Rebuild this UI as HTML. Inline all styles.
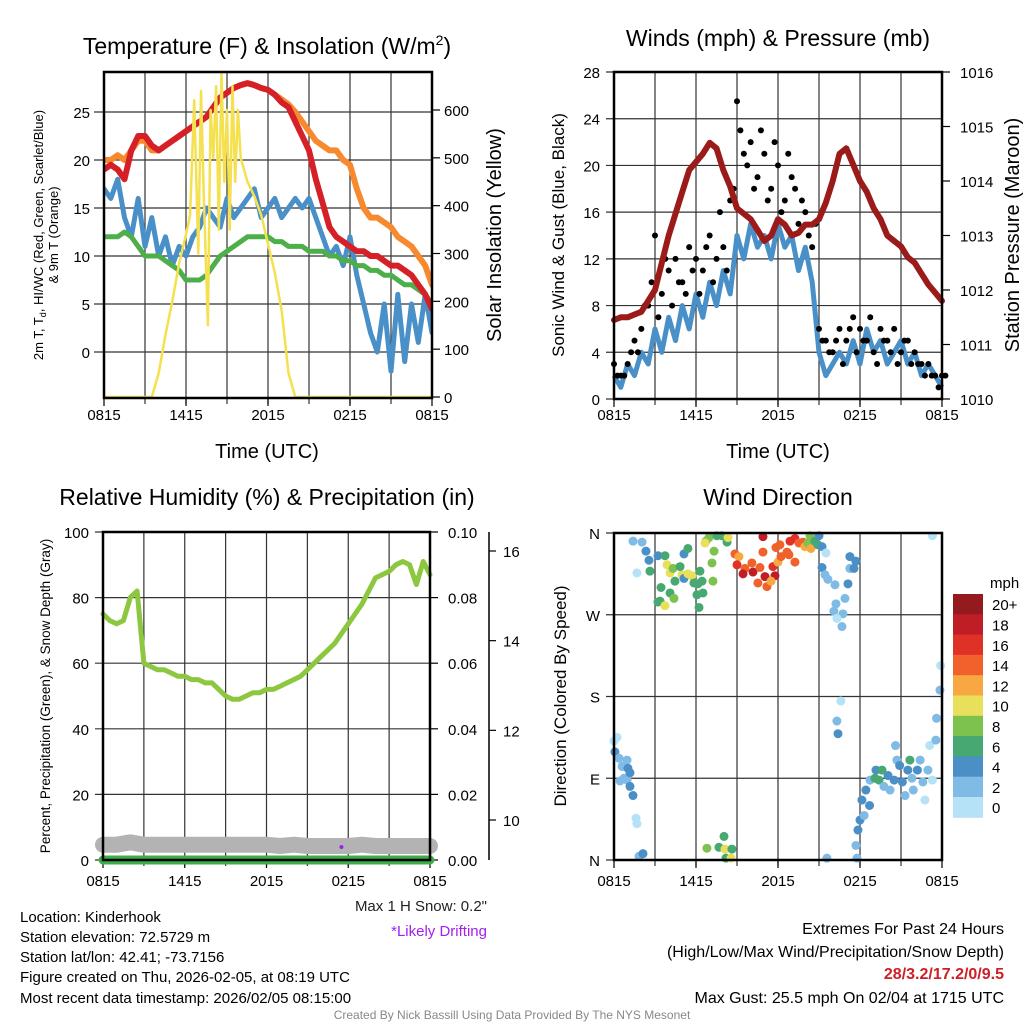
<!DOCTYPE html>
<html><head><meta charset="utf-8">
<style>
html,body{margin:0;padding:0;background:#fff;}
svg{display:block;font-family:"Liberation Sans",Arial,sans-serif;}
</style></head>
<body>
<svg id="c" width="1024" height="1024" viewBox="0 0 1024 1024" xmlns="http://www.w3.org/2000/svg">
<defs>
<clipPath id="clip1"><rect x="104" y="72" width="328" height="327"/></clipPath>
</defs>
<rect width="1024" height="1024" fill="#fff"/>
<g id="g1"></g>
<g id="g2"></g>
<g id="g3"></g>
<g id="g4"></g>

<text x="267" y="54" font-size="23" text-anchor="middle">Temperature (F) &amp; Insolation (W/m<tspan dy="-9" font-size="14">2</tspan><tspan dy="9">)</tspan></text>
<text x="778" y="46" font-size="23" text-anchor="middle">Winds (mph) &amp; Pressure (mb)</text>
<text x="267" y="505" font-size="23" text-anchor="middle">Relative Humidity (%) &amp; Precipitation (in)</text>
<text x="778" y="505" font-size="23" text-anchor="middle">Wind Direction</text>

<text x="267" y="458" font-size="20" text-anchor="middle">Time (UTC)</text>
<text x="778" y="458" font-size="20" text-anchor="middle">Time (UTC)</text>

<text transform="translate(43,235) rotate(-90)" font-size="13" text-anchor="middle">2m T, T<tspan font-size="9" dy="3">d</tspan><tspan dy="-3">, HI/WC (Red, Green, Scarlet/Blue)</tspan></text>
<text transform="translate(58,235) rotate(-90)" font-size="13" text-anchor="middle">&amp; 9m T (Orange)</text>
<text transform="translate(501,235) rotate(-90)" font-size="20" text-anchor="middle">Solar Insolation (Yellow)</text>
<text transform="translate(564,235) rotate(-90)" font-size="17" text-anchor="middle">Sonic Wind &amp; Gust (Blue, Black)</text>
<text transform="translate(1019,235) rotate(-90)" font-size="20" text-anchor="middle">Station Pressure (Maroon)</text>
<text transform="translate(50,696) rotate(-90)" font-size="13.5" text-anchor="middle">Percent, Precipitation (Green), &amp; Snow Depth (Gray)</text>
<text transform="translate(566,696) rotate(-90)" font-size="17" text-anchor="middle">Direction (Colored By Speed)</text>

<g font-size="15">
<text x="20" y="922">Location: Kinderhook</text>
<text x="20" y="942">Station elevation: 72.5729 m</text>
<text x="20" y="962">Station lat/lon: 42.41; -73.7156</text>
<text x="20" y="982">Figure created on Thu, 2026-02-05, at 08:19 UTC</text>
<text x="20" y="1003">Most recent data timestamp: 2026/02/05 08:15:00</text>
</g>
<text x="487" y="911" font-size="15" text-anchor="end" fill="#222">Max 1 H Snow: 0.2"</text>
<text x="487" y="936" font-size="15" text-anchor="end" fill="#a020f0">*Likely Drifting</text>
<g font-size="16" text-anchor="end">
<text x="1004" y="934">Extremes For Past 24 Hours</text>
<text x="1004" y="957">(High/Low/Max Wind/Precipitation/Snow Depth)</text>
<text x="1004" y="979" fill="#cc2027" font-weight="bold">28/3.2/17.2/0/9.5</text>
<text x="1004" y="1003">Max Gust: 25.5 mph On 02/04 at 1715 UTC</text>
</g>
<text x="512" y="1019" font-size="12" text-anchor="middle" fill="#888">Created By Nick Bassill Using Data Provided By The NYS Mesonet</text>
</svg>
<script>
// ---- data (half-hourly from 0815 UTC, h = 0..24) ----
const timeLabels = ["0815","1415","2015","0215","0815"];
const tempRed = [19,19.5,19,18,21,22.5,22.5,21.5,21,21.5,22,22.5,23,23.5,24,24.5,25.5,26.5,27,27.5,27.8,28,27.8,27.5,27.3,26.8,26,25.5,24,22.5,21,18,15.5,13,12,11.5,11,10.5,10.5,10,10,9.5,9,9,8.5,8,7,6,4.5];
const temp9m = [20,20,20.5,20,21,22,22,21,21,21.5,22,22.5,23,23.5,24,24.5,25.5,26.5,27,27.5,27.8,28,27.8,27.5,27.3,26.8,26.3,25.8,25,24,23,22,21.5,21,21,20,19.5,17,15,14,14,13.5,13,12,11.5,11,10,9,7];
const dewPoint = [12,12,12,12.5,12,11,10,10,10,9.5,9,8.5,7.5,7.5,7.5,8,9,10,10.5,11,11.5,12,12,12,12,11.5,11.5,11,11,11,10.5,10.5,10.5,10,10,9.5,9.5,9,9,8.5,8.5,8,8,7.5,7,7,6.5,6,5];
const windChill = [17,16,18,14,12,16,11,14,10,12,9,11,10,12,13,15,14,13,16,14,15,16,17,14,15,16,14,15,16,15,16,14,12,10,11,9,12,8,5,2,0,5,-2,6,-1,5,1,6,2];
const solarTimes = [0,3.5,4,4.5,5,5.5,6,6.3,6.6,6.9,7.1,7.3,7.6,7.8,8,8.2,8.4,8.6,8.8,9,9.2,9.4,9.6,9.8,10,10.5,11,11.5,12,12.5,13,13.5,14,24];
const solarValues = [0,0,50,130,200,280,340,380,620,300,640,420,150,600,500,650,350,680,450,600,350,650,450,600,500,450,420,380,320,260,180,50,0,0];
const tempTicks = [0,5,10,15,20,25];
const solarTicks = [0,100,200,300,400,500,600];

const windSpeed = [2,1,3,2,4,3,6,4,7,5,8,6,9,7,10,8,11,9,14,12,15,13,14,12,15,13,14,11,13,10,4,2,3,4,3,5,3,6,4,5,3,4,5,3,4,2,3,2,1];
const gustA = [3,2,3,5,6,8,14,9,11,12,10,13,12,11,14,12,13,17,25.5,21,22,19,21,18,20,17,19,15,16,13,6,5,4,6,5,7,6,5,4,6,5,6,4,5,4,3,3,2,2];
const gustB = [2,2,4,4,8,10,7,12,8,10,9,11,9,13,10,16,11,18,23,20,18,23,17,22,16,21,18,17,14,15,5,4,5,3,6,4,5,7,3,5,4,3,5,3,3,2,2,1,2];
const pressure = [1011.45,1011.5,1011.5,1011.55,1011.6,1011.8,1012.0,1012.5,1013.0,1013.4,1013.8,1014.2,1014.35,1014.5,1014.7,1014.6,1014.2,1013.9,1013.5,1013.4,1013.3,1013.1,1012.9,1013.0,1013.3,1013.2,1013.0,1013.05,1013.2,1013.2,1013.3,1013.6,1014.0,1014.5,1014.6,1014.3,1014.0,1013.8,1013.5,1013.3,1013.0,1012.9,1012.8,1012.6,1012.5,1012.3,1012.1,1011.95,1011.8];
const windTicks = [0,4,8,12,16,20,24,28];
const pressTicks = [1010,1011,1012,1013,1014,1015,1016];

const relHum = [75,73,72,73,80,82,60,59,58,58,57,56,56,55,55,54,54,52,50,49,49,50,51,51,52,52,53,54,55,56,58,60,62,64,66,69,72,75,78,82,86,87,88,90,91,90,84,91,87];
const precip = [0,0,0,0,0,0,0,0,0,0,0,0,0,0,0,0,0,0,0,0,0,0,0,0,0];
const snowDepth = [9.45,9.45,9.5,9.45,9.45,9.45,9.45,9.45,9.45,9.45,9.45,9.45,9.45,9.42,9.45,9.42,9.42,9.42,9.42,9.45,9.42,9.42,9.42,9.42,9.42];
const rhTicks = [0,20,40,60,80,100];
const precipTicks = ["0.00","0.02","0.04","0.06","0.08","0.10"];
const snowTicks = [10,12,14,16];

const dirTimes = [1.39,2.05,2.34,2.56,1.68,2.63,3.22,3.73,3.88,4.10,4.32,4.46,3.44,3.22,3.37,3.73,4.10,4.39,4.98,4.83,5.12,5.41,5.12,5.41,5.70,5.85,6.14,6.29,6.07,6.22,6.51,6.44,
6.73,6.95,6.66,7.32,7.17,7.53,7.90,8.27,8.34,7.24,
8.85,9.14,9.00,9.58,9.44,10.17,10.09,10.68,10.53,11.05,11.63,12.0,12.22,10.9,11.78,11.19,10.9,11.85,12.14,12.66,12.88,13.24,13.53,13.83,13.97,14.19,14.41,12.80,13.24,11.49,14.34,14.70,14.92,15.0,15.22,
15.51,15.22,15.44,15.65,16.17,16.24,16.09,16.75,16.31,16.68,16.9,17.12,17.26,17.56,17.26,17.70,
0,0.22,0.07,0.37,0.59,0.73,0.44,0.95,0.95,1.02,1.17,1.17,1.39,1.61,1.68,1.83,2.12,
6.8,7.68,8.05,8.12,8.19,8.63,8.56,
16.6,16.31,16.39,15.58,
18.0,17.85,17.7,17.78,18.14,18.43,18.73,19.09,19.17,19.39,19.61,19.75,20.05,20.2,20.5,20.7,20.9,21.1,21.3,21.5,21.8,21.9,22.2,22.4,22.6,22.75,22.97,23.1,23.3,23.6,23.85,23.9,23.3,18.7,18.3,20.6,21.65,23.55];
const dirValues = [351,350,340,330,316,318,335,335,325,316,321,307,300,284,285,280,294,288,314,323,337,343,310,315,313,305,304,318,292,278,294,307,
351,355,349,340,327,357,357,350,355,307,
337,334,325,321,315,317,327,322,305,312,323,328,334,339,313,301,356,344,347,339,351,354,349,350,345,349,343,336,328,307,357,351,347,357,345,
338,322,314,309,303,282,274,271,266,257,288,304,321,321,334,329,
131,135,119,112,103,90,87,88,110,101,96,81,71,46,40,4,7,
13,14,26,12,2,12,2,
175,153,139,2,
44,33,16,2,66,77,88,90,99,88,99,81,93,77,88,110,104,86,71,99,90,77,99,110,86,66,99,126,88,156,187,214,357,60,49,126,110,132];
const dirSpeeds = [2,2,4,4,1,6,4,6,10,10,8,6,6,6,6,10,6,8,10,6,4,6,4,10,10,6,6,6,6,6,6,6,
8,8,10,8,8,6,6,6,10,8,
14,12,16,14,18,18,14,14,14,18,16,12,14,14,18,14,18,14,14,14,16,16,14,14,12,8,12,14,14,12,8,6,6,4,4,
1,4,2,2,2,2,2,2,1,2,2,4,2,4,4,4,
1,1,4,2,2,2,2,2,2,4,4,4,4,1,1,2,4,
8,6,6,10,6,6,10,
1,2,4,2,
4,4,2,2,4,4,2,6,4,6,6,2,4,2,4,2,4,4,2,4,2,2,4,2,2,1,2,1,1,2,2,1,1,4,2,2,6,2];
const dirTicks = ["N","E","S","W","N"];
const speedLabels = ["0","2","4","6","8","10","12","14","16","18","20+"];
const speedColors = ["#b6e2f7","#7fbbe4","#4a8fc6","#48a872","#7dc24f","#e8e05a","#f8a843","#f0612b","#e03127","#c01e26","#941a1d"];

// ---- helpers ----
const NS="http://www.w3.org/2000/svg";
function mk(parent,tag,attrs,text){const e=document.createElementNS(NS,tag);for(const k in attrs)e.setAttribute(k,attrs[k]);if(text!==undefined)e.textContent=text;parent.appendChild(e);return e;}
function lin(d0,d1,r0,r1){return v=>r0+(v-d0)*(r1-r0)/(d1-d0);}
function pathFrom(xs,ys){return xs.map((x,i)=>(i?"L":"M")+x.toFixed(1)+","+ys[i].toFixed(1)).join("");}
function halfHours(n){return Array.from({length:n},(_,i)=>i*0.5);}

function frame(g,L,R,T,B,xs,prefix,labelY){
  for(let h=3;h<24;h+=3){const x=xs(h);
    const l=mk(g,"line",{x1:x,x2:x,y1:T,y2:B+6,stroke:"#333","stroke-width":1.2});
    
    }
  timeLabels.forEach((t,i)=>{const x=xs(i*6);
    const tk=mk(g,"line",{x1:x,x2:x,y1:B,y2:B+8,stroke:"#000","stroke-width":1.2});
    
    
    const tx=mk(g,"text",{x:x,y:labelY,"font-size":15,"text-anchor":"middle"},t);
    
    });
}
function hgrid(g,L,R,y,prefix,ext){const l=mk(g,"line",{x1:L-ext,x2:R,y1:y,y2:y,stroke:"#333","stroke-width":1.2});
  
  }
function border(g,L,R,T,B,prefix){const r=mk(g,"rect",{x:L,y:T,width:R-L,height:B-T,fill:"none",stroke:"#000","stroke-width":2.5});
  
  }

// ---- Panel 1 ----
(function(){
  const g=document.getElementById("g1");
  const L=104,R=432,T=72,B=398;
  const xs=lin(0,24,L,R), ys=lin(0,25,352,112), ysol=lin(0,600,397,110);
  tempTicks.forEach(v=>{hgrid(g,L,R,ys(v),"temperature",10);
    const t=mk(g,"text",{x:L-14,y:ys(v)+6,"font-size":15,"text-anchor":"end"},v);
    
    });
  solarTicks.forEach(v=>{const tk=mk(g,"line",{x1:R,x2:R+8,y1:ysol(v),y2:ysol(v),stroke:"#000","stroke-width":1.2});
    
    
    const t=mk(g,"text",{x:R+12,y:ysol(v)+6,"font-size":15},v);
    
    });
  frame(g,L,R,T,B,xs,"temperature",420);
  const cg=mk(g,"g",{"clip-path":"url(#clip1)"});
  
  
  const hh=halfHours(49);
  const series=[[windChill,"#4a90c8",5,"wind-chill-line"],[dewPoint,"#4caf4a",5,"dew-point-line"],[temp9m,"#f78a2e",6,"temp-9m-line"],[tempRed,"#d62027",6,"temp-2m-line"]];
  series.forEach(s=>{const p=mk(cg,"path",{d:pathFrom(hh.map(xs),s[0].map(ys)),fill:"none",stroke:s[1],"stroke-width":s[2],"stroke-linejoin":"round","stroke-linecap":"round"});
    
    });
  const sp=mk(cg,"path",{d:pathFrom(solarTimes.map(xs),solarValues.map(ysol)),fill:"none",stroke:"#f5e050","stroke-width":2.5,"stroke-linejoin":"round"});
  
  
  border(g,L,R,T,B,"temperature");
})();

// ---- Panel 2 ----
(function(){
  const g=document.getElementById("g2");
  const L=614,R=942,T=72,B=399;
  const xs=lin(0,24,L,R), yw=lin(0,28,B,T), yp=lin(1010,1016,B,T);
  windTicks.forEach(v=>{hgrid(g,L,R,yw(v),"wind",8);
    const t=mk(g,"text",{x:L-14,y:yw(v)+6,"font-size":15,"text-anchor":"end"},v);
    
    });
  pressTicks.forEach(v=>{const tk=mk(g,"line",{x1:R,x2:R+8,y1:yp(v),y2:yp(v),stroke:"#000","stroke-width":1.2});
    
    
    const t=mk(g,"text",{x:R+18,y:yp(v)+6,"font-size":15},v);
    
    });
  frame(g,L,R,T,B,xs,"winds",420);
  const hh=halfHours(49);
  const wp=mk(g,"path",{d:pathFrom(hh.map(xs),windSpeed.map(yw)),fill:"none",stroke:"#4a90c8","stroke-width":5,"stroke-linejoin":"round"});
  
  
  [gustA,gustB].forEach((arr,k)=>arr.forEach((v,i)=>{
    const c=mk(g,"circle",{cx:xs(i*0.5+k*0.25),cy:yw(v),r:3,fill:"#000"});
    
    }));
  const pp=mk(g,"path",{d:pathFrom(hh.map(xs),pressure.map(yp)),fill:"none",stroke:"#9b1a1a","stroke-width":6,"stroke-linejoin":"round","stroke-linecap":"round"});
  
  
  border(g,L,R,T,B,"winds");
})();

// ---- Panel 3 ----
(function(){
  const g=document.getElementById("g3");
  const L=103,R=430,T=532,B=860;
  const xs=lin(0,24,L,R), yr=lin(0,100,B,T), ysn=lin(10,16,820,551);
  rhTicks.forEach((v,i)=>{hgrid(g,L,R,yr(v),"humidity",8);
    const t=mk(g,"text",{x:L-14,y:yr(v)+6,"font-size":15,"text-anchor":"end"},v);
    
    
    const tk=mk(g,"line",{x1:R,x2:R+8,y1:yr(v),y2:yr(v),stroke:"#000","stroke-width":1.2});
    
    
    const t2=mk(g,"text",{x:R+18,y:yr(v)+6,"font-size":15},precipTicks[i]);
    
    });
  const ax=mk(g,"line",{x1:489,x2:489,y1:T,y2:B,stroke:"#000","stroke-width":1.5});
  
  
  snowTicks.forEach(v=>{const tk=mk(g,"line",{x1:489,x2:496,y1:ysn(v),y2:ysn(v),stroke:"#000","stroke-width":1.2});
    
    
    const t=mk(g,"text",{x:503,y:ysn(v)+6,"font-size":15},v);
    
    });
  frame(g,L,R,T,B,xs,"humidity",886);
  const hr=precip.map((_,i)=>i);
  const sn=mk(g,"path",{d:pathFrom(hr.map(xs),snowDepth.map(ysn)),fill:"none",stroke:"#b3b3b3","stroke-width":16,"stroke-linecap":"round","stroke-linejoin":"round"});
  
  
  const pr=mk(g,"path",{d:pathFrom(hr.map(xs),precip.map(v=>yr(v*1000))),fill:"none",stroke:"#3cae49","stroke-width":9,"stroke-linecap":"round"});
  
  
  const rh=mk(g,"path",{d:pathFrom(halfHours(49).map(xs),relHum.map(yr)),fill:"none",stroke:"#8dc63f","stroke-width":5,"stroke-linejoin":"round","stroke-linecap":"round"});
  
  
  const dr=mk(g,"circle",{cx:xs(17.5),cy:847,r:2,fill:"#a020f0"});
  
  
  border(g,L,R,T,B,"humidity");
})();

// ---- Panel 4 ----
(function(){
  const g=document.getElementById("g4");
  const L=614,R=942,T=533,B=860;
  const xs=lin(0,24,L,R), yd=lin(0,360,B,T);
  dirTicks.forEach((t,i)=>{const y=yd(i*90);hgrid(g,L,R,y,"direction",8);
    const tx=mk(g,"text",{x:L-14,y:y+6,"font-size":15,"text-anchor":"end"},t);
    
    });
  frame(g,L,R,T,B,xs,"direction",886);
  dirTimes.forEach((t,i)=>{const s=dirSpeeds[i];const ci=Math.min(10,Math.floor(s/2));
    const c=mk(g,"circle",{cx:xs(t),cy:yd(dirValues[i]),r:4.5,fill:speedColors[ci]});
    
    });
  border(g,L,R,T,B,"direction");
  const lt=mk(g,"text",{x:990,y:588,"font-size":15},"mph");
  
  
  const bh=20.3,top=594;
  speedColors.slice().reverse().forEach((col,k)=>{
    const r=mk(g,"rect",{x:953,y:top+k*bh,width:30,height:bh+0.5,fill:col});
    
    
    const t=mk(g,"text",{x:992,y:top+k*bh+bh/2+6,"font-size":15},speedLabels[10-k]);
    
    });
})();
</script>
</body></html>
